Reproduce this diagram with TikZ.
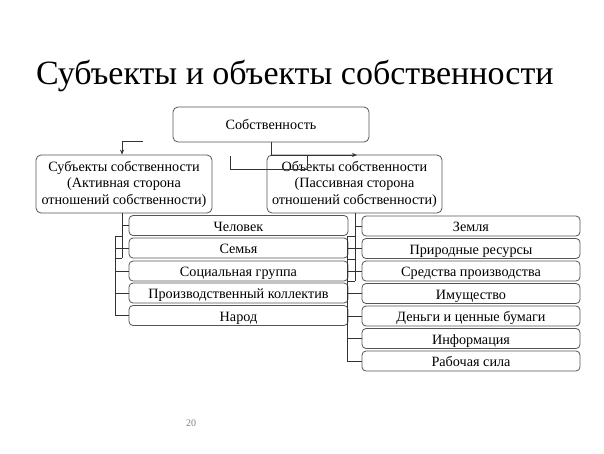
\documentclass[tikz,border=0pt]{standalone}
\usepackage{fontspec}
\setmainfont{Liberation Serif}
\usetikzlibrary{arrows.meta}
\definecolor{boxline}{HTML}{555555}
\definecolor{conline}{HTML}{333333}
\begin{document}
\begin{tikzpicture}[x=1pt,y=-1pt,
  box/.style={draw=boxline,line width=0.8pt,rounded corners=5pt,inner sep=0pt,align=center,font=\fontsize{14.2}{16.5}\selectfont},
  item/.style={box,minimum height=20pt,rounded corners=4pt,text height=11.5pt,text depth=0pt},
  conn/.style={draw=conline,line width=0.7pt},
  arr/.style={conn,-{Stealth[length=5pt,width=4pt]}}
]
\fill[white] (0,0) rectangle (604,453);
\useasboundingbox (0,0) rectangle (604,453);

\node[anchor=base west,font=\fontsize{34}{40}\selectfont] (title) at (32.5,84) {Субъекты и объекты собственности};

\node[box,minimum width=196pt,minimum height=35pt] (own) at (271,124.5) {Собственность};
\node[box,minimum width=176pt,minimum height=58pt] (subj) at (124,184) {Субъекты собственности\\(Активная сторона\\отношений собственности)};
\node[box,minimum width=175pt,minimum height=58pt] (obj) at (354.5,184) {Объекты собственности\\(Пассивная сторона\\отношений собственности)};

\foreach \n/\y/\t in {l1/225.5/Человек,l2/248/Семья,l3/271/Социальная группа,l4/293/Производственный коллектив,l5/315.5/Народ}
  \node[item,minimum width=219pt] (\n) at (238.5,\y) {\t};
\foreach \n/\y/\t in {r1/226/Земля,r2/248.5/Природные ресурсы,r3/271/Средства производства,r4/293.5/Имущество,r5/316/Деньги и ценные бумаги,r6/338.5/Информация,r7/361/Рабочая сила}
  \node[item,minimum width=218pt] (\n) at (471,\y) {\t};

\node[font=\fontsize{10}{12}\selectfont,text=gray] (pg) at (191,423) {20};

% top connectors
\coordinate (s1) at (143,141);
\coordinate (s2) at (122,141);
\coordinate (e1) at (357,155);
\coordinate (k1) at (230,156);
\coordinate (k2) at (307,169);
\draw[arr] (s1) -- (s2) -- (s2 |- subj.north);
\draw[arr] (own.south) -- (own.south |- e1) -- (e1);
\draw[conn] (k1) |- (k2) -- (k2 |- e1);

% left list connectors
\coordinate (LA) at (122,0);
\coordinate (LB) at (115,0);
\draw[conn] (LA |- subj.south) -- (LA |- l2.south);
\draw[conn] (LA |- l1.west) -- (l1.west);
\draw[conn] (LB |- l1.south) -- (LB |- l5.west);
\draw[conn] (LB |- l1.south) -- (LA |- l1.south);
\draw[conn] (LB |- l2.south) -- (LA |- l2.south);
\foreach \n in {l2,l3,l4,l5} \draw[conn] (LB |- \n.west) -- (\n.west);

% right list connectors
\coordinate (RA) at (355,0);
\coordinate (RB) at (347,0);
\draw[conn] (RA |- obj.south) -- (RA |- r3.south);
\draw[conn] (RA |- r1.west) -- (r1.west);
\draw[conn] (RB |- r1.south) -- (RB |- r7.west);
\foreach \n in {r1,r2,r3} \draw[conn] (RB |- \n.south) -- (RA |- \n.south);
\foreach \n in {r2,r3,r4,r5,r6,r7} \draw[conn] (RB |- \n.west) -- (\n.west);
\end{tikzpicture}
\end{document}
